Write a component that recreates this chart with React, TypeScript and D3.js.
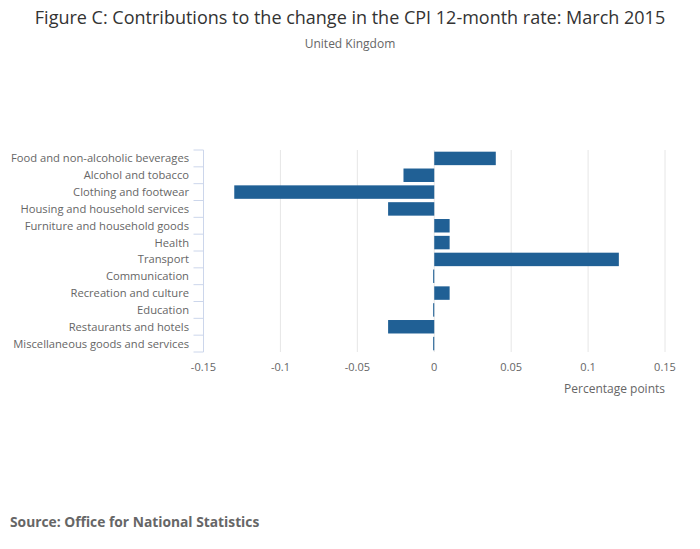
import React from "react";
import * as d3 from "d3";

const categories = [
  "Food and non-alcoholic beverages",
  "Alcohol and tobacco",
  "Clothing and footwear",
  "Housing and household services",
  "Furniture and household goods",
  "Health",
  "Transport",
  "Communication",
  "Recreation and culture",
  "Education",
  "Restaurants and hotels",
  "Miscellaneous goods and services",
];
const values = [0.04, -0.02, -0.13, -0.03, 0.01, 0.01, 0.12, -0.0007, 0.01, -0.0007, -0.03, -0.0007];
const xTicks = [-0.15, -0.1, -0.05, 0, 0.05, 0.1, 0.15];
const xTickLabels = ["-0.15", "-0.1", "-0.05", "0", "0.05", "0.1", "0.15"];

const W = 700;
const H = 549;
const left = 203.5;
const right = 665;
const top = 150;
const bottom = 352;
const font = "'Open Sans', sans-serif";

export default function App() {
  const x = d3.scaleLinear().domain([-0.15, 0.15]).range([left, right]);
  const y = d3.scaleBand<string>().domain(categories).range([top, bottom]).paddingInner(0.2).paddingOuter(0.1);
  const step = (bottom - top) / categories.length;
  const boundaries = d3.range(categories.length + 1).map((i) => top + i * step);

  return (
    <svg width={W} height={H} style={{ position: "absolute", left: 0, top: 0 }} fontFamily={font}>
      <rect width={W} height={H} fill="#fff" />
      <text x={350} y={24} textAnchor="middle" fontSize={18} fill="#333">
        Figure C: Contributions to the change in the CPI 12-month rate: March 2015
      </text>
      <text x={350} y={48} textAnchor="middle" fontSize={12} fill="#666">
        United Kingdom
      </text>
      {xTicks.map((t) => (
        <line key={t} x1={x(t)} x2={x(t)} y1={top} y2={bottom} stroke="#e6e6e6" strokeWidth={1} />
      ))}
      {categories.map((c, i) => {
        const v = values[i];
        const x0 = x(Math.min(0, v));
        const x1 = x(Math.max(0, v));
        return (
          <rect key={c} x={x0} y={y(c)} width={Math.max(x1 - x0, 1)} height={y.bandwidth()} fill="#206095" />
        );
      })}
      <line x1={left} x2={left} y1={top} y2={bottom} stroke="#ccd6eb" strokeWidth={1} />
      {boundaries.map((b, i) => (
        <line key={i} x1={left - 10} x2={left} y1={b} y2={b} stroke="#ccd6eb" strokeWidth={1} />
      ))}
      {categories.map((c) => (
        <text key={c} x={189} y={(y(c) as number) + y.bandwidth() / 2 + 4} textAnchor="end" fontSize={11.2} fill="#666">
          {c}
        </text>
      ))}
      {xTicks.map((t, i) => (
        <text key={t} x={x(t)} y={371} textAnchor="middle" fontSize={11} fill="#666">
          {xTickLabels[i]}
        </text>
      ))}
      <text x={665} y={393} textAnchor="end" fontSize={12} fill="#666">
        Percentage points
      </text>
      <text x={10} y={527} fontSize={13.8} fontWeight="bold" fill="#666">
        Source: Office for National Statistics
      </text>
    </svg>
  );
}
